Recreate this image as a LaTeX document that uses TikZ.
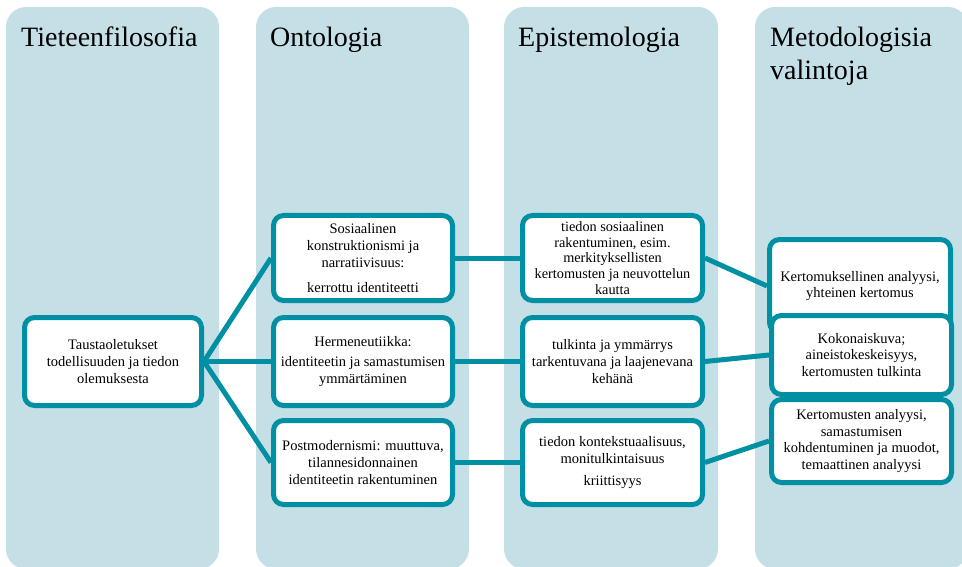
\documentclass[tikz,border=0pt]{standalone}
\usepackage{fontspec}
\setmainfont{Liberation Serif}
\definecolor{colbg}{RGB}{196,224,230}
\definecolor{boxline}{RGB}{0,143,163}
\pgfdeclarelayer{bg}
\pgfsetlayers{bg,main}
\begin{document}
\begin{tikzpicture}[x=1pt,y=-1pt,
  column/.style={fill=colbg, rounded corners=20pt},
  header/.style={font=\fontsize{28}{33}\selectfont, anchor=base west, inner sep=0pt, align=left},
  card/.style={draw=boxline, line width=5pt, fill=white, rounded corners=10pt,
    rectangle, align=center, inner sep=0pt, minimum width=179pt, minimum height=87pt,
    font=\fontsize{14.5}{16.8}\selectfont},
  link/.style={draw=boxline, line width=5pt}]
  \useasboundingbox (0,0) rectangle (962,567);

  % background columns
  \begin{pgfonlayer}{bg}
  \fill[column] (6,7) rectangle (219,569);
  \fill[column] (256,7) rectangle (469,569);
  \fill[column] (504,7) rectangle (718,569);
  \fill[column] (755,7) rectangle (968,569);
  \end{pgfonlayer}

  % column headings
  \node[header] (h1) at (21,47) {Tieteenfilosofia};
  \node[header] (h2) at (270,47) {Ontologia};
  \node[header] (h3) at (518,47) {Epistemologia};
  \node[header] (h4) at (770,80) {Metodologisia\\valintoja};

  % cards
  \node[card, minimum width=177pt, minimum height=88pt] (L) at (113,361.5)
    {Taustaoletukset\\todellisuuden ja tiedon\\olemuksesta};
  \node[card, minimum height=85pt] (O1) at (363,258)
    {Sosiaalinen\\konstruktionismi ja\\narratiivisuus:\\[8pt]kerrottu identiteetti};
  \node[card, minimum height=88pt] (O2) at (363,361.5)
    {Hermeneutiikka:\\[3pt]identiteetin ja samastumisen\\ymmärtäminen};
  \node[card, minimum height=84pt] (O3) at (363,462.5)
    {Postmodernismi: muuttuva,\\tilannesidonnainen\\identiteetin rakentuminen};
  \node[card, minimum width=180pt, minimum height=85pt,
        font=\fontsize{14.3}{15.6}\selectfont] (E1) at (612.5,258)
    {tiedon sosiaalinen\\rakentuminen, esim.\\merkityksellisten\\kertomusten ja neuvottelun\\kautta};
  \node[card, minimum width=180pt, minimum height=88pt] (E2) at (612.5,361.5)
    {tulkinta ja ymmärrys\\tarkentuvana ja laajenevana\\kehänä};
  \node[card, minimum width=180pt, minimum height=84pt] (E3) at (612.5,462.5)
    {tiedon kontekstuaalisuus,\\monitulkintaisuus\\[5pt]kriittisyys};
  \node[card, minimum width=181pt, minimum height=93pt] (M1) at (860,286)
    {Kertomuksellinen analyysi,\\yhteinen kertomus};
  \node[card, minimum width=180pt, minimum height=79pt] (M2) at (861.5,355)
    {Kokonaiskuva;\\aineistokeskeisyys,\\kertomusten tulkinta};
  \node[card, minimum width=180pt, minimum height=83pt] (M3) at (861.5,441)
    {Kertomusten analyysi,\\samastumisen\\kohdentuminen ja muodot,\\temaattinen analyysi};

  % connectors, kept behind the cards
  \begin{pgfonlayer}{bg}
  \path[link] (L.east) -- (O1.west);
  \path[link] (L.east) -- (O2.west);
  \path[link] (L.east) -- (O3.west);
  \path[link] (O1.east) -- (E1.west);
  \path[link] (O2.east) -- (E2.west);
  \path[link] (O3.east) -- (E3.west);
  \path[link] (E1.east) -- (M1.west);
  \path[link] (E2.east) -- (M2.west);
  \path[link] (E3.east) -- (M3.west);
  \end{pgfonlayer}
\end{tikzpicture}
\end{document}
